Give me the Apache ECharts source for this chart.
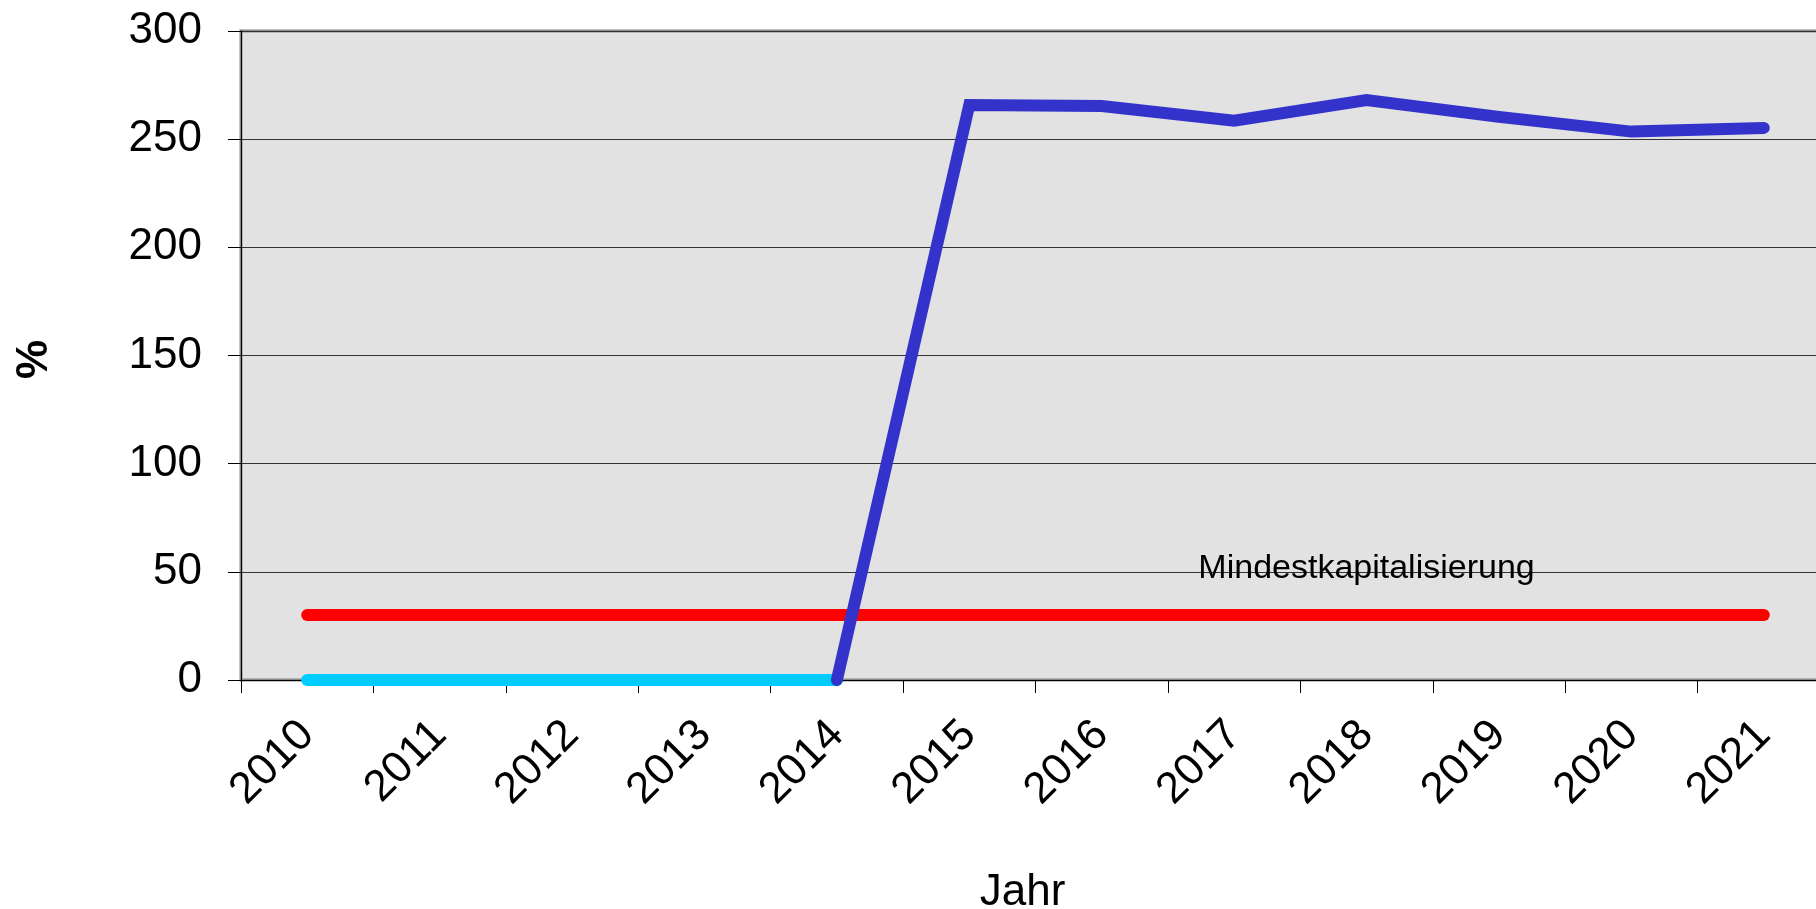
<!DOCTYPE html>
<html>
<head>
<meta charset="utf-8">
<script src="https://cdn.jsdelivr.net/npm/echarts@6/dist/echarts.min.js"></script>
<style>
  html, body { margin: 0; padding: 0; background: #ffffff; }
  #chart { width: 1816px; height: 909px; }
</style>
</head>
<body>
<div id="chart"></div>
<script>
const years = ['2010', '2011', '2012', '2013', '2014', '2015', '2016', '2017', '2018', '2019', '2020', '2021'];
const capitalization = [null, null, null, null, 0, 265.8, 265.3, 258.5, 268.1, 260.3, 253.5, 255.2];
const capitalizationBefore = [0, 0, 0, 0, 0, null, null, null, null, null, null, null];
const minimumCapitalization = [30, 30, 30, 30, 30, 30, 30, 30, 30, 30, 30, 30];
const minimumLabel = 'Mindestkapitalisierung';
const minimumLabelIndex = 8;
const yTicks = [0, 50, 100, 150, 200, 250, 300];
const xAxisTitle = 'Jahr';
const yAxisTitle = '%';

const FONT = "'Liberation Sans', Arial, Helvetica, sans-serif";

const redData = minimumCapitalization.map((v, i) => i === minimumLabelIndex ? {
  value: v,
  label: {
    show: true,
    formatter: minimumLabel,
    position: 'top',
    distance: 29,
    color: '#000',
    fontSize: 34,
    fontFamily: FONT
  }
} : v);

const chart = echarts.init(document.getElementById('chart'), null, { renderer: 'canvas' });
chart.setOption({
  animation: false,
  backgroundColor: '#ffffff',
  grid: {
    left: 241,
    top: 31,
    width: 1589,
    height: 649,
    outerBoundsMode: 'none',
    containLabel: false,
    show: true,
    backgroundColor: '#E2E2E2',
    borderColor: '#888888',
    borderWidth: 3
  },
  xAxis: {
    type: 'category',
    data: years,
    boundaryGap: true,
    name: xAxisTitle,
    nameLocation: 'middle',
    nameGap: 191,
    nameTextStyle: { fontSize: 44, color: '#000', fontFamily: FONT, padding: [0, 26, 0, 0] },
    axisLine: { show: true, lineStyle: { color: '#000', width: 1 } },
    axisTick: { show: true, length: 13, interval: 0, alignWithLabel: false, lineStyle: { color: '#000', width: 1 } },
    axisLabel: { rotate: 45, interval: 0, margin: 48, fontSize: 44, color: '#000', fontFamily: FONT },
    splitLine: { show: false }
  },
  yAxis: {
    type: 'value',
    min: yTicks[0],
    max: yTicks[yTicks.length - 1],
    interval: yTicks[1] - yTicks[0],
    name: yAxisTitle,
    nameLocation: 'middle',
    nameGap: 184,
    nameRotate: 90,
    nameTextStyle: { fontSize: 44, fontWeight: 'bold', color: '#000', fontFamily: FONT, padding: [0, 8, 0, 0] },
    axisLine: { show: true, lineStyle: { color: '#000', width: 1 } },
    axisTick: { show: true, length: 13, lineStyle: { color: '#000', width: 1 } },
    axisLabel: { margin: 39, fontSize: 44, color: '#000', fontFamily: FONT },
    splitLine: { show: true, lineStyle: { color: '#333333', width: 1 } }
  },
  series: [
    {
      type: 'line',
      data: capitalizationBefore,
      showSymbol: false,
      symbol: 'none',
      clip: false,
      lineStyle: { color: '#00CCFF', width: 12, cap: 'round', join: 'round' },
      z: 3
    },
    {
      type: 'line',
      data: redData,
      symbol: 'circle',
      symbolSize: 0,
      showSymbol: true,
      clip: false,
      itemStyle: { color: '#FF0000' },
      lineStyle: { color: '#FF0000', width: 12, cap: 'round', join: 'round' },
      z: 4
    },
    {
      type: 'line',
      data: capitalization,
      showSymbol: false,
      symbol: 'none',
      clip: false,
      lineStyle: { color: '#3333CC', width: 12, cap: 'round', join: 'miter' },
      z: 5
    }
  ]
});
</script>
</body>
</html>
